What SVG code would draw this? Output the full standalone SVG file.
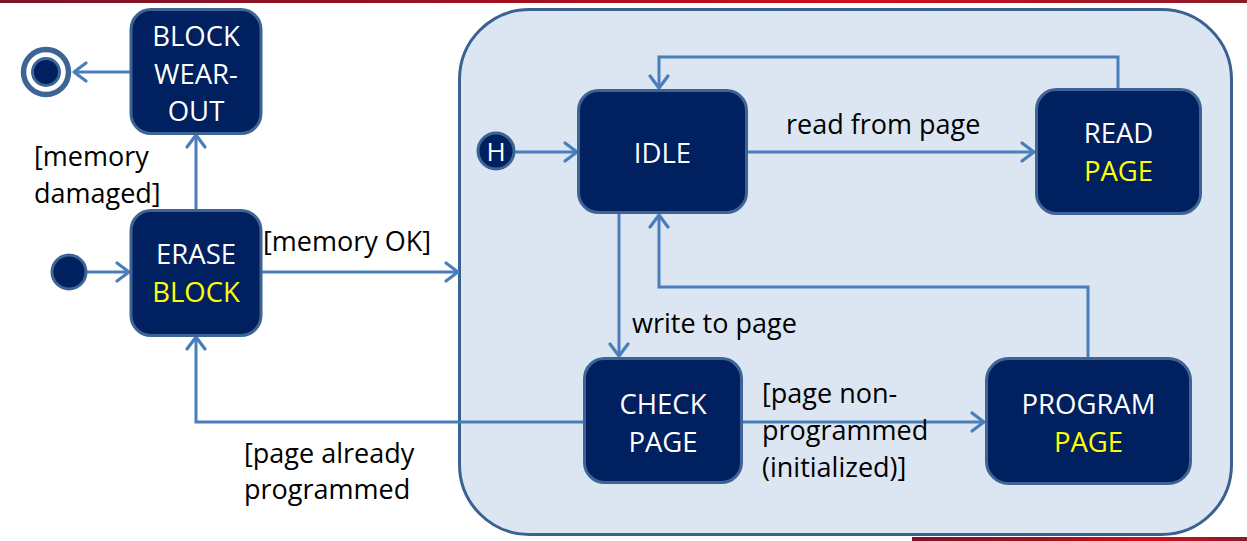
<svg xmlns="http://www.w3.org/2000/svg" width="1247" height="541" viewBox="0 0 1247 541">
<style>
.node{fill:#002060;stroke:#3D6494;stroke-width:3}
.nt{font-family:"Open Sans","Liberation Sans",sans-serif;font-size:27.5px;fill:#FFFFFF;text-anchor:middle}
.y{fill:#FFFF00}
.lbl{font-family:"Open Sans","Liberation Sans",sans-serif;font-size:27px;fill:#000000}
.c{fill:none;stroke:#4A7EBB;stroke-width:3}
.a{marker-end:url(#arr)}
</style>
<defs>
<marker id="arr" markerUnits="userSpaceOnUse" markerWidth="20" markerHeight="24" refX="15" refY="12" orient="auto" viewBox="0 0 20 24">
<path d="M3,3 L15,12 L3,21" fill="none" stroke="#4A7EBB" stroke-width="3.2" stroke-linecap="round" stroke-linejoin="round"/>
</marker>
<linearGradient id="bar" x1="0" x2="1" y1="0" y2="0">
<stop offset="0" stop-color="#7A1428"/>
<stop offset="0.4" stop-color="#A01020"/>
<stop offset="0.7" stop-color="#D0101C"/>
<stop offset="1" stop-color="#8A1A28"/>
</linearGradient>
</defs>
<rect x="0" y="0" width="1247" height="541" fill="#FFFFFF"/>
<rect x="0" y="0" width="1247" height="3" fill="url(#bar)"/>
<rect x="912" y="537" width="335" height="4" fill="url(#bar)"/>

<g id="superstate">
<rect x="459.5" y="9.5" width="772" height="525" rx="70" ry="70" fill="#DCE6F2" stroke="#3B6191" stroke-width="3"/>
</g>

<g id="connectors">
<line class="c a" x1="130" y1="72" x2="74" y2="72"/>
<line class="c a" x1="196" y1="210" x2="196" y2="135"/>
<line class="c a" x1="87" y1="272" x2="129" y2="272"/>
<line class="c a" x1="262" y1="272" x2="458" y2="272"/>
<line class="c a" x1="515" y1="152" x2="577" y2="152"/>
<line class="c a" x1="747" y1="152" x2="1034" y2="152"/>
<polyline class="c a" points="1118,88 1118,57 659,57 659,88"/>
<line class="c a" x1="619" y1="213" x2="619" y2="356"/>
<polyline class="c a" points="1088,358 1088,287 659,287 659,215"/>
<line class="c a" x1="742" y1="422" x2="984" y2="422"/>
<polyline class="c a" points="583,422 196,422 196,337"/>
</g>

<g id="final">
<circle cx="46" cy="72" r="22.5" fill="#FFFFFF" stroke="#3D6494" stroke-width="5.5"/>
<circle cx="46" cy="72" r="13.5" fill="#002060" stroke="#3D6494" stroke-width="3"/>
</g>

<g id="initial">
<circle cx="69" cy="272" r="17" class="node"/>
</g>

<g id="block-wear-out">
<rect x="131" y="9.5" width="130" height="124" rx="20" class="node"/>
<text class="nt" x="196" y="46">BLOCK</text>
<text class="nt" x="196" y="83.5">WEAR-</text>
<text class="nt" x="196" y="121">OUT</text>
</g>

<g id="erase-block">
<rect x="131" y="210.5" width="130" height="125" rx="20" class="node"/>
<text class="nt" x="196" y="264">ERASE</text>
<text class="nt y" x="196" y="302">BLOCK</text>
</g>

<g id="history">
<circle cx="496" cy="151" r="18" class="node"/>
<text class="nt" x="496" y="160.5" style="font-size:26px">H</text>
</g>

<g id="idle">
<rect x="578.5" y="90.5" width="168" height="122" rx="20" class="node"/>
<text class="nt" x="662.5" y="162.5">IDLE</text>
</g>

<g id="read-page">
<rect x="1036.5" y="89.5" width="164" height="124" rx="20" class="node"/>
<text class="nt" x="1118.5" y="143">READ</text>
<text class="nt y" x="1118.5" y="181">PAGE</text>
</g>

<g id="check-page">
<rect x="584.5" y="358.5" width="157" height="124" rx="20" class="node"/>
<text class="nt" x="663" y="414">CHECK</text>
<text class="nt" x="663" y="451.5">PAGE</text>
</g>

<g id="program-page">
<rect x="986.5" y="358.5" width="204" height="125" rx="22" class="node"/>
<text class="nt" x="1088.5" y="414">PROGRAM</text>
<text class="nt y" x="1088.5" y="451.5">PAGE</text>
</g>

<g id="labels">
<text class="lbl" x="34" y="166">[memory</text>
<text class="lbl" x="34" y="203">damaged]</text>
<text class="lbl" x="263" y="251">[memory OK]</text>
<text class="lbl" x="786" y="134">read from page</text>
<text class="lbl" x="632" y="333">write to page</text>
<text class="lbl" x="762" y="403">[page non-</text>
<text class="lbl" x="762" y="440">programmed</text>
<text class="lbl" x="762" y="477">(initialized)]</text>
<text class="lbl" x="244" y="463">[page already</text>
<text class="lbl" x="244" y="499">programmed</text>
</g>
</svg>
